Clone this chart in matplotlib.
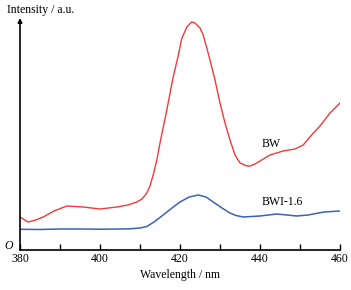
import matplotlib.pyplot as plt

plt.rcParams['font.family'] = ['Liberation Serif', 'DejaVu Serif']

# BW spectrum (red)
bw_x = [380, 382, 384, 385.8, 388.5, 391.7, 395.8, 400, 404.2, 407, 409.2, 410.5,
        411.7, 412.5, 413.3, 414.2, 415, 416.7, 418.3, 419.6, 420.4, 421.7, 422.9,
        423.75, 425, 425.8, 426.7, 427.5, 428.75, 430, 431.25, 432.5, 433.75, 435,
        436.7, 437.5, 438.75, 440, 442.5, 445.8, 448.75, 450.8, 452.9, 455, 457.5, 460]
bw_y = [33, 28, 30, 33, 39, 44, 43, 41, 43, 45, 48, 51,
        57, 64, 75, 90, 107, 140, 173, 195, 211, 223, 228,
        227, 222, 215, 202, 190, 170, 147, 127, 110, 95, 87,
        84, 84, 86, 89, 95, 99, 101, 105, 115, 124, 137, 147]

# BWI-1.6 spectrum (blue)
bwi_x = [380, 385, 390, 395, 400, 405, 407.5, 410, 411.7, 413.5, 415.8, 418, 420, 422.3,
         424.6, 426.5, 428.3, 430.5, 432.5, 434, 435.8, 440, 444.2, 449.2, 452, 456, 460]
bwi_y = [20.7, 20.5, 21, 21, 20.8, 21, 21.2, 22, 23.5, 28, 35, 42, 48, 53,
         55, 53, 48, 42, 37, 34.5, 33, 34, 36, 34, 35, 38, 39]

xticks = [380, 400, 420, 440, 460]

fig = plt.figure(figsize=(3.51, 2.90), dpi=100)
ax = fig.add_axes([20 / 351, 40 / 290, 320 / 351, 232 / 290])

ax.plot(bw_x, bw_y, color='#f03a3a', lw=1.0)
ax.plot(bwi_x, bwi_y, color='#3a62b5', lw=1.1)

ax.set_xlim(380, 460)
ax.set_ylim(0, 232)
ax.set_xticks(xticks)
ax.set_xticks(range(390, 460, 20), minor=True)
ax.set_yticks([])
ax.tick_params(axis='x', which='both', direction='in', length=4, width=1,
               labelsize=8.5, pad=2)
for s in ['left', 'top', 'right']:
    ax.spines[s].set_visible(False)
ax.spines['bottom'].set_linewidth(1.2)

# y axis drawn as an arrow
ax.annotate('', xy=(0, 1.0), xytext=(0, 0), xycoords='axes fraction',
            arrowprops=dict(arrowstyle='-|>', color='black', lw=1.2,
                            mutation_scale=6, shrinkA=0, shrinkB=0))

ax.text(440.3, 106, 'BW', fontsize=8.5, ha='left', va='center')
ax.text(440.3, 48, 'BWI-1.6', fontsize=8.5, ha='left', va='center')

ax.set_xlabel('Wavelength / nm', fontsize=8.5, labelpad=3)
fig.text(7 / 351, 1 - 10 / 290, 'Intensity / a.u.', fontsize=8.5, ha='left', va='center')
fig.text(13 / 351, 1 - 246 / 290, 'O', fontsize=8.5, style='italic', ha='right', va='center')

fig.savefig('out.png', dpi=100)
